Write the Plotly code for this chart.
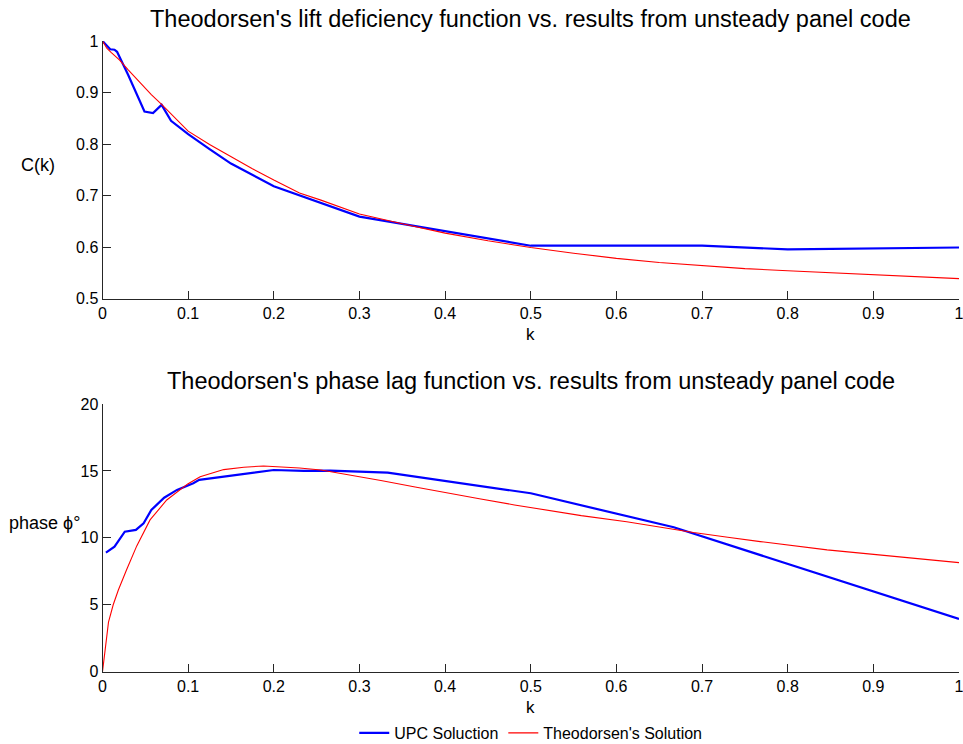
import plotly.graph_objects as go

# ---- data -------------------------------------------------------------
# Lift deficiency C(k): unsteady panel code (UPC) and Theodorsen
k_upc_lift = [0.0, 0.009, 0.014, 0.017, 0.030, 0.049, 0.059, 0.069, 0.080,
              0.100, 0.125, 0.150, 0.200, 0.300, 0.500, 0.700, 0.800, 1.000]
c_upc = [1.000, 0.984, 0.983, 0.979, 0.934, 0.863, 0.860, 0.876, 0.845,
         0.819, 0.790, 0.762, 0.718, 0.659, 0.6025, 0.6025, 0.5955, 0.599]

k_theo_lift = [0.0, 0.005, 0.010, 0.020, 0.030, 0.044, 0.057, 0.069, 0.085,
               0.100, 0.125, 0.150, 0.175, 0.200, 0.230, 0.255, 0.300, 0.350,
               0.400, 0.450, 0.500, 0.550, 0.600, 0.650, 0.700, 0.750, 0.800,
               0.850, 0.900, 0.950, 1.000]
c_theo = [1.000, 0.986, 0.978, 0.963, 0.944, 0.918, 0.896, 0.877, 0.850,
          0.825, 0.799, 0.775, 0.752, 0.730, 0.705, 0.691, 0.664, 0.645,
          0.627, 0.612, 0.599, 0.588, 0.578, 0.570, 0.564, 0.558, 0.554,
          0.550, 0.546, 0.542, 0.5385]

# Phase lag (degrees)
k_upc_phase = [0.004, 0.014, 0.026, 0.039, 0.048, 0.057, 0.072, 0.087, 0.106,
               0.113, 0.200, 0.235, 0.266, 0.333, 0.500, 0.667, 1.000]
phi_upc = [8.89, 9.34, 10.46, 10.59, 11.09, 12.08, 13.00, 13.58, 14.08,
           14.33, 15.07, 15.00, 15.02, 14.87, 13.33, 10.79, 3.94]

k_theo_phase = [0.0, 0.007, 0.0125, 0.0185, 0.028, 0.040, 0.0555, 0.075,
                0.0995, 0.114, 0.1415, 0.165, 0.188, 0.208, 0.230, 0.255,
                0.290, 0.325, 0.365, 0.403, 0.440, 0.481, 0.534, 0.559,
                0.612, 0.650, 0.690, 0.730, 0.768, 0.846, 0.923, 1.000]
phi_theo = [0.0, 3.7, 5.0, 6.10, 7.60, 9.40, 11.34, 12.83,
            14.03, 14.57, 15.10, 15.28, 15.37, 15.32, 15.22, 15.07,
            14.70, 14.28, 13.80, 13.38, 12.92, 12.46, 11.91, 11.66,
            11.20, 10.80, 10.40, 10.05, 9.72, 9.10, 8.65, 8.15]

k_ticks = [0, 0.1, 0.2, 0.3, 0.4, 0.5, 0.6, 0.7, 0.8, 0.9, 1]
k_tick_text = ["0", "0.1", "0.2", "0.3", "0.4", "0.5", "0.6", "0.7", "0.8", "0.9", "1"]
c_ticks = [0.5, 0.6, 0.7, 0.8, 0.9, 1]
c_tick_text = ["0.5", "0.6", "0.7", "0.8", "0.9", "1"]
phi_ticks = [0, 5, 10, 15, 20]
phi_tick_text = ["0", "5", "10", "15", "20"]

# ---- layout helpers ----------------------------------------------------
W, H = 963, 744
FONT = "Liberation Sans, Arial, Helvetica, sans-serif"


def fx(px):
    return px / W


def fy(py):
    return 1 - py / H


BLUE = "#0000FF"
RED = "#FF0000"
AX = "#262626"

fig = go.Figure()

fig.add_trace(go.Scatter(x=k_upc_lift, y=c_upc, mode="lines", name="UPC Soluction",
                         line=dict(color=BLUE, width=2.2), xaxis="x", yaxis="y",
                         legendgroup="upc"))
fig.add_trace(go.Scatter(x=k_theo_lift, y=c_theo, mode="lines", name="Theodorsen's Solution",
                         line=dict(color=RED, width=1.1), xaxis="x", yaxis="y",
                         legendgroup="theo"))
fig.add_trace(go.Scatter(x=k_upc_phase, y=phi_upc, mode="lines", name="UPC Soluction",
                         line=dict(color=BLUE, width=2.2), xaxis="x2", yaxis="y2",
                         legendgroup="upc", showlegend=False))
fig.add_trace(go.Scatter(x=k_theo_phase, y=phi_theo, mode="lines", name="Theodorsen's Solution",
                         line=dict(color=RED, width=1.1), xaxis="x2", yaxis="y2",
                         legendgroup="theo", showlegend=False))

axis_common = dict(
    showline=True, linecolor=AX, linewidth=1, mirror=False,
    ticks="inside", ticklen=8, tickwidth=1, tickcolor=AX,
    showgrid=False, zeroline=False, automargin=False,
    ticklabeloverflow="allow",
    tickfont=dict(family=FONT, size=16, color="#000000"),
)

xdom = [fx(102.5), fx(959)]

fig.update_layout(
    width=W, height=H,
    margin=dict(l=0, r=0, t=0, b=0, autoexpand=False),
    paper_bgcolor="white", plot_bgcolor="white",
    font=dict(family=FONT, color="#000000"),
    xaxis=dict(domain=xdom, range=[0, 1], tickvals=k_ticks, ticktext=k_tick_text,
               anchor="y", **axis_common),
    yaxis=dict(domain=[fy(298.5), fy(41)], range=[0.5, 1], tickvals=c_ticks,
               ticktext=c_tick_text, anchor="x", **axis_common),
    xaxis2=dict(domain=xdom, range=[0, 1], tickvals=k_ticks, ticktext=k_tick_text,
                anchor="y2", **axis_common),
    yaxis2=dict(domain=[fy(671.7), fy(404)], range=[0, 20], tickvals=phi_ticks,
                ticktext=phi_tick_text, anchor="x2", **axis_common),
    legend=dict(orientation="h", x=fx(530.75), xanchor="center", y=fy(733), yanchor="middle",
                font=dict(family=FONT, size=16, color="#000000"),
                bgcolor="rgba(0,0,0,0)", itemwidth=30, tracegroupgap=0),
    showlegend=True,
)

annotations = [
    dict(text="Theodorsen's lift deficiency function vs. results from unsteady panel code",
         x=530.75, y=18.5, size=23.5),
    dict(text="Theodorsen's phase lag function vs. results from unsteady panel code",
         x=530.75, y=381, size=23.5),
    dict(text="C(k)", x=37.5, y=165, size=18),
    dict(text="phase ϕ°", x=44, y=523, size=18),
    dict(text="k", x=530.75, y=334, size=17),
    dict(text="k", x=530.75, y=707, size=17),
]
for a in annotations:
    fig.add_annotation(xref="paper", yref="paper", xanchor="center", yanchor="middle",
                       showarrow=False, text=a["text"], x=fx(a["x"]), y=fy(a["y"]),
                       font=dict(family=FONT, color="#000000", size=a["size"]))

fig.write_html("out.html")
